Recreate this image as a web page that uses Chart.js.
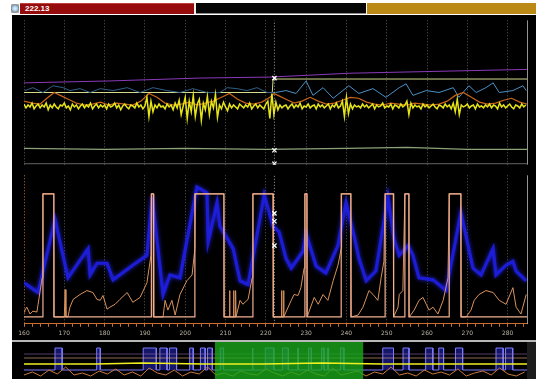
<!DOCTYPE html>
<html>
<head>
<meta charset="utf-8">
<script src="https://cdn.jsdelivr.net/npm/chart.js@4.4.0/dist/chart.umd.min.js"></script>
<style>
body{margin:0;width:536px;height:379px;overflow:hidden;position:relative;background:#fff;font-family:"Liberation Sans",Arial,sans-serif}
.abs{position:absolute}
#icon{left:11px;top:4px;width:8px;height:9px;background:radial-gradient(circle at 50% 50%,#e8f4ff 0,#9cc8e8 45%,#8a8a8a 60%,#d0d0d0 100%)}
#red{left:20px;top:3px;width:174px;height:11px;background:#960b0b;border-top:1px solid #c04040;box-sizing:border-box;color:#fff;font-weight:bold;font-size:8px;line-height:10px;padding-left:5px}
#sep{left:194px;top:3px;width:2px;height:11px;background:#f0f0f0}
#blk{left:196px;top:3px;width:170px;height:11px;background:#050505;border-bottom:1px solid #888;box-sizing:border-box}
#gold{left:367px;top:3px;width:169px;height:11px;background:#bb8a16}
#main{left:12px;top:15px;width:524px;height:325px;background:#000}
#gap{left:12px;top:340px;width:524px;height:2px;background:#b8b8b8}
#nav{left:12px;top:342px;width:524px;height:37px;background:#000}
#navend{left:527px;top:342px;width:9px;height:37px;background:#1c1c1c}
canvas{position:absolute}
</style>
</head>
<body>
<div id="icon" class="abs"></div>
<div id="red" class="abs">222.13</div>
<div id="sep" class="abs"></div>
<div id="blk" class="abs"></div>
<div id="gold" class="abs"></div>
<div id="main" class="abs"></div>
<div id="gap" class="abs"></div>
<div id="nav" class="abs"></div>
<div id="navend" class="abs"></div>
<canvas id="top-chart" width="524" height="155" style="left:12px;top:15px"></canvas>
<canvas id="bottom-chart" width="524" height="170" style="left:12px;top:170px"></canvas>
<canvas id="nav-chart" width="524" height="37" style="left:12px;top:342px"></canvas>
<script>
// ============ DATA ============
const xMin = 160
const xMax = 284.8
const cursorT = 222.13

// upper panel
const purpleT = [160, 181.3, 203.6, 220.9, 240.7, 284.8]
const purpleV = [85, 87, 90, 91, 95, 99]
const paleT = [160, 221.6, 221.8, 284.8]
const paleV = [75, 75, 89, 89]
const tealT = [160.2,162.2,164.7,167.2,169.7,171.4,173.9,176.4,178.9,182.1,185.6,188.8,192.0,195.5,198.7,201.9,205.4,208.6,210.4,212.9,215.3,217.8,220.3,222.5,225.0,227.5,230.0,231.7,234.2,236.7,240.6,243.1,246.6,249.8,253.1,254.8,256.5,259.8,263.0,266.5,267.9,270.4,272.2,274.6,276.4,277.9,281.3,283.8,284.6]
const tealV = [77,80,75,82,80,77,79,75,79,77,80,75,80,77,75,79,75,75,80,79,77,80,75,75,77,74,87,72,80,69,82,74,79,70,80,84,72,77,75,80,70,82,75,80,85,75,77,82,77]
const orangeTopT = [160,162,164,166,167.5,169,171,173,175,177,179,181,183,185,187,189,191,193,195,197,199,201,203,205,207,209,211,213,215,217,219,221,222,223,225,227,229,231,233,235,237,239,241,243,245,247,249,251,253,255,257,259,261,263,265,267,269,271,273,275,277,279,281,283,284.8]
const orangeTopV = [66,64,63,70,75,72,68,64,62,63,65,62,64,63,62,66,74,70,64,62,63,65,62,64,66,70,74,68,64,63,65,70,74,72,68,64,66,70,66,63,64,67,70,69,65,63,62,64,63,62,64,63,62,63,66,72,75,70,65,63,64,67,69,65,63]
const yellowStart = 160
const yellowStep = 0.5
const yellowV = [
63,59,62,60,64,58,61,63,59,62, 60,64,57,62,59,63,60,58,62,61,
64,59,61,57,63,60,62,58,61,63, 59,62,60,64,58,61,63,59,62,60,
62,58,63,60,61,64,59,62,57,61, 63,60,58,62,61,59,64,60,62,58,
61,70,50,66,55,62,59,63,60,61, 58,63,60,62,57,64,59,67,52,61,
70,48,66,55,72,50,63,68,46,64, 57,71,52,66,59,73,49,62,58,65,
60,56,63,59,62,60,58,63,61,59, 62,60,64,58,61,63,59,62,60,58,
63,66,48,74,52,65,57,62,59,61, 62,58,61,63,59,62,60,64,58,61,
60,63,59,61,62,58,63,60,62,59, 61,63,58,62,60,64,59,61,66,50,
70,53,63,58,62,60,61,59,63,60, 62,59,61,63,58,62,60,61,64,59,
61,60,63,58,62,61,59,63,60,62, 66,52,64,59,62,60,61,58,63,60,
62,59,61,63,60,58,62,61,59,63, 60,62,58,64,55,68,52,62,60,61,
63,59,61,62,58,63,60,61,59,62, 60,63,59,62,61,58,64,60,62,59,
61,63,60,58,62,61,59,63,60,62]
const greenT = [160, 180, 200, 220, 240, 255, 270, 284.8]
const greenV = [17, 16, 17, 16, 17, 18, 16, 16]
const grayT = [160, 284.8]
const grayV = [1, 1]
const topMarkV = [90, 15, 1]

// lower panel
const pulses = [[164.7,167.4],[191.6,192.1],[202.4,209.6],[216.8,221.8],[229.7,230.2],[238.7,241.1],[249.6,251.7],[254.5,255.5],[265.5,268.4]]
const sqLow = 7
const sqHigh = 133
const blueT = [160,163.5,167.7,170.9,175.9,176.4,178.1,180.6,182.1,187.0,190.5,191.8,194.5,196.2,198.7,202.9,205.4,205.7,207.9,208.6,211.9,213.6,215.6,219.6,221.8,223.3,225.0,226.3,229.2,230.0,232.5,234.9,237.9,239.9,241.9,243.1,244.9,247.3,250.3,251.8,253.1,255.3,256.5,258.0,261.5,264.7,268.4,271.4,273.4,276.4,277.1,279.6,281.3,282.1,284.6]
const blueV = [42,32,107,47,77,50,62,62,45,60,70,130,30,50,47,140,134,84,124,100,77,44,40,132,100,94,67,57,74,92,59,52,80,124,90,67,44,54,130,87,70,80,70,47,45,34,114,57,50,77,50,60,64,54,44]
const tanT = [160.0,160.2,160.7,161.5,162.2,163.2,163.5,164.5,164.7,167.4,167.5,170.0,170.2,170.4,170.9,171.4,172.2,173.9,175.6,177.1,178.1,178.9,179.6,180.6,181.3,182.6,183.8,185.6,187.0,188.8,190.5,191.5,191.6,192.1,192.2,194.5,195.0,195.7,196.7,197.5,198.7,200.4,201.7,202.4,202.5,209.6,209.7,210.9,211.0,211.1,211.9,212.0,212.1,212.4,212.5,212.6,213.6,214.3,215.6,216.6,216.8,221.8,221.9,223.8,223.9,224.0,224.3,224.4,224.5,226.3,227.0,228.0,228.7,229.5,229.7,230.2,230.3,230.5,232.0,233.0,234.2,235.4,236.7,237.9,238.7,238.8,241.1,241.2,242.9,244.1,245.6,246.6,247.8,248.6,249.3,249.6,251.6,251.7,252.8,253.1,254.0,254.5,255.5,255.6,256.8,258.0,259.0,259.8,260.5,261.5,262.7,264.0,265.2,265.5,268.4,268.5,269.7,270.9,271.7,272.9,274.6,276.4,277.9,279.6,281.3,282.1,283.3,284.6]
const tanV = [12,14,17,10,13,12,20,47,133,133,7,7,35,7,7,17,25,30,34,32,25,24,29,15,17,20,25,32,22,27,42,70,133,133,7,7,24,14,24,9,30,44,50,77,133,133,7,7,34,7,7,34,7,7,34,7,24,20,25,47,133,133,7,7,34,7,7,34,7,24,30,29,37,57,133,133,7,10,27,20,30,24,44,60,77,133,133,7,9,17,34,30,24,47,64,133,133,7,17,30,34,133,133,7,14,24,27,20,14,17,10,24,47,133,133,7,7,14,24,30,34,32,24,20,37,17,10,30]
const botMarkV = [113, 105, 80]

// navigator
const navMax = 422
const navPulsesBefore = [[26,32],[61,64],[100,111],[114,120],[122,128],[139,142],[148,152],[154,158]]
const navPulsesAfter = [[301,310],[318,323],[337,343],[348,352],[362,368],[396,402],[404,410]]
const navLow = 9
const navHigh = 31
const navOrangeStep = 7
const navOrangeV = [4,7,3,9,5,12,4,6,3,8,5,10,4,7,3,11,6,4,9,3,7,5,12,4,6,3,8,5,4,10,6,3,7,4,9,5,3,11,4,6,8,3,7,5,12,4,6,3,9,5,7,4,10,3,6,8,4,11,5,3,7]
const navYellowT = [0, 60, 100, 150, 200, 250, 300, 350, 422]
const navYellowV = [15, 15, 16, 15, 15, 16, 15, 15, 15]

// ============ HELPERS ============
function xy(ts, vs) {
    return ts.map((t, i) => ({x: t, y: vs[i]}))
}
function steps(list, lo, hi, t0, t1) {
    let pts = [{x: t0, y: lo}]
    list.forEach(p => {
        pts.push({x: p[0], y: lo}, {x: p[0], y: hi}, {x: p[1], y: hi}, {x: p[1], y: lo})
    })
    pts.push({x: t1, y: lo})
    return pts
}
function line(data, color, width, order, extra) {
    return Object.assign({
        type: 'line', data: data, borderColor: color, borderWidth: width,
        pointRadius: 0, tension: 0, fill: false, order: order
    }, extra || {})
}
function marks(values, order) {
    return {
        type: 'scatter', data: values.map(v => ({x: cursorT, y: v})), order: order,
        pointStyle: 'crossRot', pointRadius: 3, borderColor: '#ffffff', borderWidth: 1.3,
        backgroundColor: '#ffffff'
    }
}
const edgeLine = {
    id: 'edgeLine',
    afterDraw(chart) {
        const a = chart.chartArea, ctx = chart.ctx
        ctx.save()
        ctx.strokeStyle = 'rgba(210,210,210,0.7)'
        ctx.lineWidth = 1
        ctx.beginPath()
        ctx.moveTo(Math.round(a.right) + 0.5, a.top)
        ctx.lineTo(Math.round(a.right) + 0.5, a.bottom)
        ctx.stroke()
        ctx.restore()
    }
}
// soft glow for the blue trace
const glow = {
    id: 'glow',
    beforeDatasetDraw(chart, args) {
        if (!args.meta._dataset.glow) return
        chart.ctx.save()
        chart.ctx.shadowColor = 'rgba(40,40,255,0.9)'
        chart.ctx.shadowBlur = 4
    },
    afterDatasetDraw(chart, args) {
        if (args.meta._dataset.glow) chart.ctx.restore()
    }
}

function createChart(element, datasets, scales, padding, plugins) {
    const ctx = document.getElementById(element)
    return new Chart(ctx, {
        type: 'line',
        data: {datasets: datasets},
        options: {
            responsive: false,
            animation: false,
            devicePixelRatio: 1,
            layout: {padding: padding},
            plugins: {legend: {display: false}, tooltip: {enabled: false}},
            scales: scales
        },
        plugins: plugins || []
    })
}

// ============ UPPER PANEL ============
const yellowPts = yellowV.map((v, i) => ({x: yellowStart + i * yellowStep, y: v}))

createChart('top-chart', [
    marks(topMarkV, 0),
    line([{x: cursorT, y: 0}, {x: cursorT, y: 150}], 'rgba(220,220,220,0.75)', 1, 1, {borderDash: [1, 2]}),
    line(xy(purpleT, purpleV), '#8a3ab8', 1, 6),
    line(xy(paleT, paleV), '#d2dc8a', 1, 5),
    line(yellowPts, '#e6e418', 1.5, 2),
    line(xy(orangeTopT, orangeTopV), '#c8641c', 1.2, 3),
    line(xy(tealT, tealV), '#4a8cbc', 1, 4, {
        segment: {borderColor: c => c.p0.parsed.x < 221 ? '#2f5f86' : '#4a90c4'}
    }),
    line(xy(greenT, greenV), '#8ea27a', 1.2, 7),
    line(xy(grayT, grayV), '#6a6a6a', 1.2, 8)
], {
    x: {
        type: 'linear', min: xMin, max: xMax,
        ticks: {display: false, stepSize: 10, includeBounds: false},
        grid: {color: 'rgba(200,200,190,0.45)', drawTicks: false},
        border: {display: false, dash: [1, 2]}
    },
    y: {display: false, min: 0, max: 150}
}, {left: 12, right: 9, top: 2, bottom: 2}, [edgeLine])

// ============ LOWER PANEL ============
createChart('bottom-chart', [
    marks(botMarkV, 0),
    line([{x: cursorT, y: 0}, {x: cursorT, y: 152}], 'rgba(220,220,220,0.75)', 1, 1, {borderDash: [1, 2]}),
    line(steps(pulses, sqLow, sqHigh, xMin, xMax), '#f4b092', 1.2, 2),
    line(xy(tanT, tanV), '#d8925c', 1, 3),
    line(xy(blueT, blueV), 'rgba(30,30,225,0.9)', 3.2, 4, {glow: true})
], {
    x: {
        type: 'linear', min: xMin, max: xMax,
        ticks: {
            stepSize: 2, includeBounds: false, autoSkip: false, maxRotation: 0, padding: 3,
            color: '#bdb4a4', font: {family: 'DejaVu Sans', size: 6},
            callback: v => v % 10 === 0 ? v : ''
        },
        grid: {
            color: c => c.tick && c.tick.value === 160 ? '#c86e30' : (c.tick && c.tick.value % 10 === 0 ? 'rgba(200,200,190,0.45)' : 'rgba(0,0,0,0)'),
            tickColor: '#c86e30', tickLength: 3
        },
        border: {display: true, color: '#c86e30', width: 1, dash: [1, 2]}
    },
    y: {display: false, min: 0, max: 152}
}, {left: 12, right: 9, top: 5, bottom: 0}, [edgeLine, glow])

// ============ NAVIGATOR ============
const navPulses = navPulsesBefore.concat(pulses, navPulsesAfter)
const navOrangePts = navOrangeV.map((v, i) => ({x: i * navOrangeStep, y: v}))

createChart('nav-chart', [
    line(xy(navYellowT, navYellowV), '#f0f020', 1.6, 0),
    line([{x: xMin, y: 37}, {x: xMax, y: 37}], 'rgba(0,0,0,0)', 0, 1, {fill: 'origin', backgroundColor: 'rgba(26,168,26,0.8)'}),
    line([{x: 0, y: 21}, {x: navMax, y: 21}], 'rgba(220,170,130,0.8)', 0.8, 2),
    line([{x: 0, y: 25}, {x: navMax, y: 25}], 'rgba(150,110,180,0.7)', 0.8, 2),
    line(navOrangePts, '#c8783c', 1, 3),
    line(steps(navPulses, navLow, navHigh, 0, navMax), '#7c7cff', 1, 4, {fill: {value: navLow}, backgroundColor: 'rgba(40,40,190,0.55)'})
], {
    x: {type: 'linear', display: false, min: 0, max: navMax},
    y: {display: false, min: 0, max: 37}
}, {left: 12, right: 9, top: 0, bottom: 0})
</script>
</body>
</html>
